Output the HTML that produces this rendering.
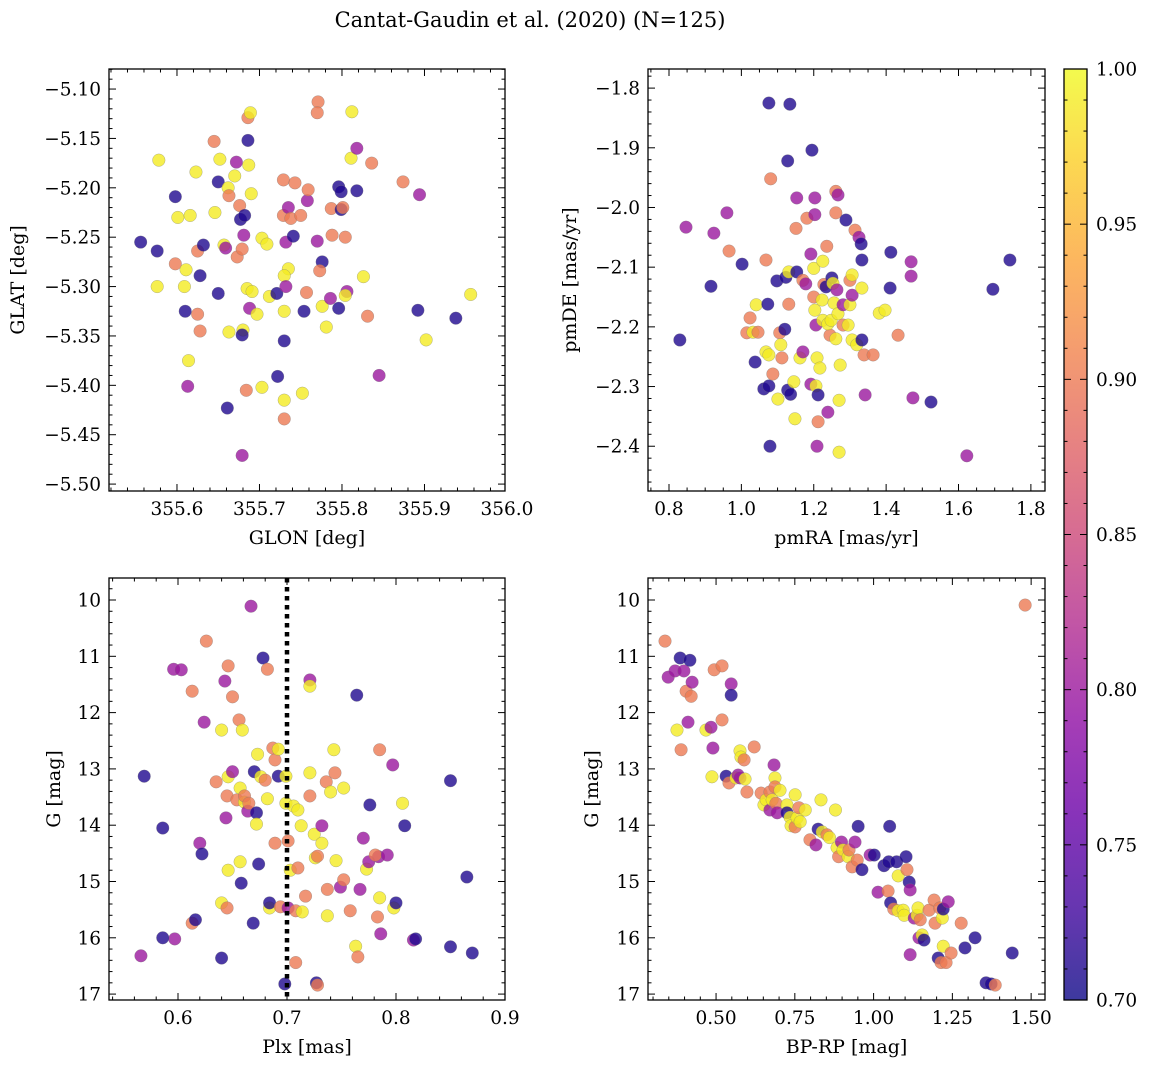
<!DOCTYPE html>
<html><head><meta charset="utf-8">
<style>
html,body{margin:0;padding:0;background:#fff;}
svg{display:block;font-family:"DejaVu Serif","Liberation Serif",serif;}
</style></head>
<body>
<svg id="chart" width="1149" height="1068" viewBox="0 0 1149 1068" xmlns="http://www.w3.org/2000/svg">
<defs>
<linearGradient id="plasma" x1="0" y1="1" x2="0" y2="0">
<stop offset="0" stop-color="#0d0887"/><stop offset="0.1" stop-color="#41049d"/><stop offset="0.2" stop-color="#6a00a8"/><stop offset="0.3" stop-color="#8f0da4"/><stop offset="0.4" stop-color="#b12a90"/><stop offset="0.5" stop-color="#cc4778"/><stop offset="0.6" stop-color="#e16462"/><stop offset="0.7" stop-color="#f2844b"/><stop offset="0.8" stop-color="#fca636"/><stop offset="0.9" stop-color="#fcce25"/><stop offset="1" stop-color="#f0f921"/>
</linearGradient>
</defs>
<text x="530" y="27" font-size="21" text-anchor="middle">Cantat-Gaudin et al. (2020) (N=125)</text>
</svg>
<script>
// Panel 1: GLON vs GLAT
const p1X=[355.556,355.576,355.578,355.598,355.601,355.616,355.623,355.576,355.598,355.611,355.609,355.610,355.625,355.628,355.614,355.613,355.625,355.628,355.632,355.645,355.646,355.650,355.652,355.650,355.657,355.659,355.662,355.663,355.670,355.672,355.676,355.677,355.682,355.681,355.687,355.686,355.689,355.686,355.690,355.673,355.679,355.663,355.680,355.679,355.688,355.685,355.691,355.697,355.703,355.709,355.712,355.721,355.684,355.703,355.722,355.661,355.679,355.729,355.729,355.732,355.735,355.730,355.732,355.730,355.730,355.730,355.730,355.735,355.743,355.738,355.741,355.750,355.758,355.759,355.757,355.754,355.752,355.771,355.770,355.770,355.776,355.773,355.776,355.781,355.788,355.787,355.786,355.796,355.796,355.799,355.799,355.801,355.804,355.806,355.804,355.812,355.811,355.818,355.818,355.826,355.831,355.836,355.845,355.874,355.894,355.892,355.902,355.938,355.956];
const p1Y=[-5.255,-5.264,-5.172,-5.209,-5.230,-5.228,-5.184,-5.300,-5.277,-5.283,-5.300,-5.325,-5.328,-5.345,-5.375,-5.401,-5.264,-5.289,-5.258,-5.153,-5.225,-5.194,-5.171,-5.307,-5.258,-5.261,-5.200,-5.208,-5.188,-5.174,-5.218,-5.232,-5.228,-5.248,-5.177,-5.129,-5.124,-5.152,-5.206,-5.270,-5.262,-5.346,-5.344,-5.349,-5.322,-5.302,-5.305,-5.328,-5.251,-5.257,-5.310,-5.307,-5.405,-5.402,-5.391,-5.423,-5.471,-5.192,-5.228,-5.255,-5.282,-5.289,-5.300,-5.325,-5.355,-5.415,-5.434,-5.220,-5.195,-5.231,-5.249,-5.228,-5.213,-5.202,-5.306,-5.325,-5.408,-5.113,-5.124,-5.254,-5.275,-5.284,-5.320,-5.341,-5.248,-5.221,-5.312,-5.322,-5.199,-5.204,-5.222,-5.220,-5.250,-5.305,-5.309,-5.123,-5.170,-5.160,-5.203,-5.290,-5.330,-5.175,-5.390,-5.194,-5.207,-5.324,-5.354,-5.332,-5.308];
const p1C=[0.71,0.71,0.99,0.71,0.99,0.99,0.99,0.99,0.90,0.99,0.99,0.71,0.90,0.90,0.99,0.80,0.90,0.71,0.71,0.90,0.99,0.71,0.99,0.71,0.99,0.80,0.99,0.90,0.99,0.80,0.90,0.71,0.71,0.80,0.99,0.90,0.99,0.71,0.99,0.90,0.90,0.99,0.99,0.71,0.80,0.99,0.99,0.99,0.99,0.99,0.99,0.71,0.90,0.99,0.71,0.71,0.80,0.90,0.90,0.80,0.99,0.99,0.80,0.99,0.71,0.99,0.90,0.80,0.90,0.90,0.71,0.90,0.80,0.90,0.90,0.71,0.99,0.90,0.90,0.80,0.71,0.90,0.99,0.99,0.90,0.90,0.80,0.71,0.71,0.71,0.71,0.90,0.90,0.80,0.99,0.99,0.99,0.80,0.71,0.99,0.90,0.90,0.80,0.90,0.80,0.71,0.99,0.71,0.99];
// Panel 2: pmRA vs pmDE
const p2X=[0.830,0.847,0.924,0.916,0.960,0.966,1.002,1.015,1.024,1.038,1.032,1.041,1.046,1.073,1.068,1.076,1.081,1.068,1.076,1.062,1.076,1.079,1.087,1.101,1.098,1.106,1.109,1.112,1.120,1.123,1.131,1.131,1.128,1.136,1.145,1.148,1.151,1.153,1.128,1.134,1.153,1.162,1.170,1.170,1.178,1.181,1.192,1.195,1.192,1.200,1.200,1.203,1.203,1.203,1.206,1.209,1.206,1.212,1.212,1.209,1.217,1.223,1.225,1.225,1.228,1.234,1.239,1.245,1.239,1.236,1.250,1.248,1.253,1.256,1.261,1.261,1.264,1.267,1.267,1.261,1.270,1.270,1.273,1.281,1.281,1.289,1.295,1.300,1.306,1.300,1.306,1.306,1.314,1.319,1.325,1.331,1.333,1.333,1.333,1.339,1.342,1.364,1.381,1.397,1.413,1.411,1.433,1.469,1.469,1.474,1.524,1.623,1.695,1.742];
const p2Y=[-2.222,-2.033,-2.043,-2.132,-2.009,-2.073,-2.095,-2.210,-2.185,-2.259,-2.209,-2.163,-2.209,-2.162,-2.088,-1.825,-1.952,-2.242,-2.247,-2.304,-2.299,-2.400,-2.279,-2.321,-2.123,-2.210,-2.230,-2.252,-2.204,-2.117,-2.108,-2.162,-2.306,-2.313,-2.292,-2.354,-2.035,-1.984,-1.922,-1.827,-2.108,-2.252,-2.242,-2.122,-2.128,-2.018,-2.078,-1.904,-2.296,-2.150,-2.102,-2.012,-1.984,-2.172,-2.197,-2.252,-2.299,-2.314,-2.359,-2.400,-2.269,-2.155,-2.090,-2.189,-2.129,-2.133,-2.343,-2.214,-2.195,-2.065,-2.118,-2.189,-2.127,-2.160,-1.973,-2.009,-2.138,-1.979,-2.178,-2.220,-2.323,-2.410,-2.264,-2.163,-2.197,-2.021,-2.197,-2.122,-2.113,-2.163,-2.147,-2.222,-2.038,-2.230,-2.050,-2.061,-2.135,-2.088,-2.222,-2.247,-2.314,-2.247,-2.177,-2.172,-2.075,-2.135,-2.214,-2.091,-2.115,-2.319,-2.326,-2.416,-2.137,-2.088];
const p2C=[0.71,0.80,0.80,0.71,0.80,0.90,0.71,0.90,0.90,0.71,0.99,0.99,0.90,0.71,0.90,0.71,0.90,0.99,0.99,0.71,0.71,0.71,0.90,0.99,0.71,0.90,0.99,0.90,0.71,0.71,0.99,0.90,0.71,0.71,0.99,0.99,0.90,0.80,0.71,0.71,0.71,0.99,0.80,0.90,0.80,0.90,0.80,0.71,0.80,0.90,0.99,0.80,0.80,0.99,0.80,0.99,0.99,0.71,0.90,0.80,0.99,0.99,0.99,0.99,0.90,0.71,0.80,0.90,0.99,0.90,0.71,0.99,0.99,0.99,0.90,0.90,0.80,0.80,0.99,0.99,0.99,0.99,0.99,0.80,0.90,0.71,0.99,0.90,0.99,0.99,0.80,0.99,0.90,0.99,0.80,0.71,0.99,0.71,0.71,0.90,0.80,0.90,0.99,0.99,0.71,0.71,0.90,0.80,0.80,0.80,0.71,0.80,0.71,0.71];
// Panel 3: Plx vs G
const p3X=[0.566,0.569,0.586,0.596,0.603,0.597,0.586,0.613,0.613,0.616,0.620,0.622,0.626,0.624,0.635,0.640,0.640,0.640,0.643,0.646,0.646,0.646,0.645,0.645,0.644,0.650,0.650,0.654,0.656,0.657,0.657,0.659,0.658,0.661,0.661,0.664,0.665,0.667,0.669,0.670,0.672,0.672,0.673,0.674,0.676,0.678,0.680,0.682,0.682,0.684,0.684,0.687,0.689,0.689,0.692,0.692,0.694,0.698,0.699,0.699,0.701,0.701,0.703,0.706,0.708,0.708,0.710,0.710,0.713,0.714,0.717,0.721,0.721,0.721,0.721,0.725,0.726,0.728,0.727,0.728,0.732,0.732,0.736,0.737,0.737,0.740,0.743,0.744,0.745,0.749,0.752,0.752,0.758,0.764,0.763,0.765,0.767,0.770,0.773,0.775,0.776,0.783,0.785,0.784,0.781,0.785,0.786,0.792,0.797,0.798,0.800,0.806,0.808,0.816,0.818,0.850,0.850,0.865,0.870];
const p3Y=[16.32,13.13,14.05,11.23,11.24,16.02,16.00,11.62,15.74,15.68,14.32,14.51,10.73,12.17,13.23,12.31,15.38,16.36,11.44,11.17,13.14,14.80,15.47,13.48,13.87,11.72,13.05,13.55,12.13,13.34,14.65,12.31,15.03,13.59,13.48,13.75,13.61,10.11,15.74,13.05,13.78,13.98,12.74,14.69,13.14,11.03,13.20,11.23,13.53,15.47,15.38,12.63,12.84,14.32,12.65,13.13,15.45,16.82,13.13,13.61,14.28,15.47,14.80,13.66,16.44,15.52,13.73,14.76,14.01,15.54,15.26,11.42,11.53,13.07,13.48,14.16,14.58,14.55,16.80,16.84,14.01,14.32,13.23,15.14,15.61,13.41,12.66,13.07,14.63,15.10,13.34,14.97,15.52,11.69,16.15,16.34,15.14,14.23,14.78,14.65,13.64,15.63,15.29,14.56,14.53,12.66,15.93,14.53,12.93,15.47,15.38,13.61,14.01,16.04,16.02,13.21,16.16,14.92,16.27];
const p3C=[0.80,0.71,0.71,0.80,0.80,0.80,0.71,0.90,0.90,0.71,0.80,0.71,0.90,0.80,0.90,0.99,0.99,0.71,0.80,0.90,0.99,0.99,0.90,0.90,0.80,0.90,0.80,0.90,0.90,0.99,0.99,0.99,0.71,0.99,0.90,0.80,0.90,0.80,0.71,0.71,0.71,0.99,0.99,0.71,0.99,0.71,0.90,0.90,0.99,0.99,0.71,0.90,0.90,0.90,0.99,0.71,0.90,0.71,0.99,0.99,0.90,0.80,0.99,0.99,0.90,0.90,0.99,0.90,0.99,0.99,0.90,0.80,0.99,0.99,0.90,0.99,0.99,0.90,0.71,0.90,0.80,0.99,0.90,0.90,0.99,0.99,0.99,0.90,0.99,0.80,0.99,0.90,0.90,0.71,0.99,0.90,0.80,0.80,0.99,0.80,0.71,0.90,0.99,0.80,0.90,0.90,0.80,0.80,0.80,0.99,0.71,0.99,0.71,0.80,0.71,0.71,0.71,0.71,0.71];
// Panel 4: BP-RP vs G
const p4X=[0.338,0.348,0.370,0.386,0.398,0.376,0.389,0.405,0.421,0.424,0.411,0.417,0.468,0.484,0.490,0.487,0.494,0.519,0.519,0.532,0.541,0.548,0.548,0.563,0.570,0.576,0.576,0.579,0.589,0.592,0.598,0.621,0.643,0.652,0.659,0.671,0.671,0.678,0.684,0.687,0.687,0.690,0.694,0.703,0.725,0.725,0.735,0.738,0.751,0.751,0.757,0.763,0.767,0.783,0.798,0.817,0.824,0.833,0.837,0.852,0.860,0.879,0.884,0.889,0.898,0.903,0.919,0.922,0.932,0.941,0.948,0.951,0.963,0.989,1.002,1.014,1.033,1.046,1.048,1.051,1.054,1.064,1.073,1.078,1.078,1.094,1.097,1.103,1.106,1.113,1.116,1.116,1.129,1.138,1.144,1.141,1.148,1.154,1.160,1.176,1.192,1.195,1.210,1.218,1.221,1.221,1.237,1.205,1.214,1.230,1.246,1.278,1.290,1.322,1.357,1.373,1.386,1.440,1.481];
const p4Y=[10.73,11.37,11.26,11.03,11.26,12.31,12.66,11.62,11.71,11.46,12.17,11.07,12.31,12.26,12.63,13.14,11.24,11.17,12.13,13.13,13.25,11.49,11.69,13.16,13.11,12.68,13.16,12.79,12.84,13.18,13.41,12.61,13.43,13.64,13.55,13.73,13.41,13.55,12.93,13.16,13.32,13.61,13.78,13.38,13.64,13.78,13.86,14.01,13.46,14.03,13.87,13.69,13.94,13.73,14.26,14.35,14.07,13.55,14.12,14.17,14.22,13.73,14.40,14.56,14.30,14.44,14.56,14.44,14.74,14.30,14.62,14.02,14.79,14.53,14.53,15.19,14.72,15.17,14.65,14.02,15.38,15.49,14.65,14.90,15.52,15.51,15.60,14.56,14.79,15.01,15.15,16.30,15.65,15.60,16.00,15.47,15.68,15.95,16.04,15.51,15.33,15.74,15.47,15.65,15.49,16.15,15.36,16.36,16.44,16.44,16.27,15.74,16.18,16.00,16.80,16.82,16.84,16.27,10.09];
const p4C=[0.90,0.80,0.80,0.71,0.80,0.99,0.90,0.90,0.90,0.80,0.80,0.71,0.99,0.80,0.80,0.99,0.90,0.90,0.90,0.71,0.90,0.80,0.71,0.99,0.80,0.99,0.80,0.99,0.90,0.99,0.90,0.90,0.90,0.99,0.99,0.80,0.90,0.99,0.80,0.99,0.90,0.90,0.80,0.99,0.99,0.71,0.99,0.99,0.99,0.90,0.99,0.90,0.99,0.99,0.90,0.80,0.71,0.99,0.99,0.90,0.99,0.99,0.99,0.90,0.80,0.99,0.99,0.90,0.90,0.80,0.90,0.71,0.71,0.80,0.71,0.80,0.71,0.90,0.71,0.71,0.71,0.90,0.71,0.99,0.99,0.99,0.99,0.71,0.90,0.71,0.80,0.80,0.80,0.99,0.80,0.99,0.90,0.99,0.71,0.90,0.90,0.90,0.90,0.99,0.71,0.99,0.80,0.71,0.90,0.90,0.90,0.90,0.71,0.71,0.71,0.71,0.90,0.71,0.90];
// Tick labels
const p1XTicks=[355.6,355.7,355.8,355.9,356.0];
const p1YTicks=[-5.10,-5.15,-5.20,-5.25,-5.30,-5.35,-5.40,-5.45,-5.50];
const p2XTicks=[0.8,1.0,1.2,1.4,1.6,1.8];
const p2YTicks=[-1.8,-1.9,-2.0,-2.1,-2.2,-2.3,-2.4];
const p3XTicks=[0.6,0.7,0.8,0.9];
const gTicks=[10,11,12,13,14,15,16,17];
const p4XTicks=[0.50,0.75,1.00,1.25,1.50];
const cbTicks=[0.70,0.75,0.80,0.85,0.90,0.95,1.00];
const plxLine=0.7;

const NS="http://www.w3.org/2000/svg";
const svg=document.getElementById('chart');
function mk(tag,attrs,parent){const e=document.createElementNS(NS,tag);for(const k in attrs)e.setAttribute(k,attrs[k]);(parent||svg).appendChild(e);return e;}
const stops=[[13,8,135],[65,4,157],[106,0,168],[143,13,164],[177,42,144],[204,71,120],[225,100,98],[242,132,75],[252,166,54],[252,206,37],[240,249,33]];
function plasma(v){let t=(v-0.7)/0.3;t=Math.max(0,Math.min(1,t));const f=t*10,i=Math.min(9,Math.floor(f)),r=f-i;const a=stops[i],b=stops[i+1];return `rgb(${a.map((c,k)=>Math.round(c+(b[k]-c)*r)).join(',')})`;}

function panel(o){
  const g=mk('g',{});
  
  
  const sx=v=>o.L+(v-o.x0)/(o.x1-o.x0)*(o.R-o.L);
  const sy=v=>o.B-(v-o.y0)/(o.y1-o.y0)*(o.B-o.T);
  const pg=mk('g',{},g);
  
  
  for(let i=0;i<o.xs.length;i++){
    const c=mk('circle',{cx:sx(o.xs[i]),cy:sy(o.ys[i]),r:6.3,fill:plasma(o.cs[i]),'fill-opacity':0.8,stroke:'#777','stroke-width':0.4,'stroke-opacity':0.7},pg);
    
    
  }
  if(o.vline!==undefined){
    const l=mk('line',{x1:sx(o.vline),x2:sx(o.vline),y1:o.T,y2:o.B,stroke:'#000','stroke-width':4.5,'stroke-dasharray':'4.5 4.5'},g);
    
    
  }
  const fr=mk('rect',{x:o.L,y:o.T,width:o.R-o.L,height:o.B-o.T,fill:'none',stroke:'#000','stroke-width':1.3},g);
  
  
  const xt=o.xt, dx=(xt[1]-xt[0])/o.xm;
  for(let v=xt[0]-Math.ceil((xt[0]-o.x0)/dx)*dx;v<=o.x1+1e-9;v+=dx){
    const px=sx(v); if(px<o.L-0.5||px>o.R+0.5)continue;
    const major=xt.some(t=>Math.abs(t-v)<dx/3);const len=major?7:3.5;
    mk('line',{x1:px,x2:px,y1:o.B,y2:o.B-len,stroke:'#000','stroke-width':1},g);
    mk('line',{x1:px,x2:px,y1:o.T,y2:o.T+len,stroke:'#000','stroke-width':1},g);
  }
  xt.forEach(v=>{const t=mk('text',{x:sx(v),y:o.B+24,'font-size':18.5,'text-anchor':'middle'},g);t.textContent=v.toFixed(o.xd);
    
    });
  const yt=o.yt, dy=(yt[1]-yt[0])/o.ym;
  const ylo=Math.min(o.y0,o.y1),yhi=Math.max(o.y0,o.y1),ady=Math.abs(dy);
  for(let v=yt[0]-Math.ceil(Math.abs(yt[0]-ylo)/ady+20)*ady;v<=yhi+1e-9;v+=ady){
    if(v<ylo-1e-9)continue;const py=sy(v);
    const major=yt.some(t=>Math.abs(t-v)<ady/3);const len=major?7:3.5;
    mk('line',{x1:o.L,x2:o.L+len,y1:py,y2:py,stroke:'#000','stroke-width':1},g);
    mk('line',{x1:o.R,x2:o.R-len,y1:py,y2:py,stroke:'#000','stroke-width':1},g);
  }
  yt.forEach(v=>{const t=mk('text',{x:o.L-8,y:sy(v)+6.5,'font-size':18.5,'text-anchor':'end'},g);t.textContent=(v<0?'\u2212':'')+Math.abs(v).toFixed(o.yd);
    
    });
  const xl=mk('text',{x:(o.L+o.R)/2,y:o.B+53,'font-size':19,'text-anchor':'middle'},g);xl.textContent=o.xlab;
  
  
  const yl=mk('text',{x:o.ylx,y:(o.T+o.B)/2,'font-size':19,'text-anchor':'middle',transform:`rotate(-90 ${o.ylx} ${(o.T+o.B)/2})`},g);yl.textContent=o.ylab;
  
  
}
panel({name:'panel-glon-glat',L:109,R:505,T:69,B:491,x0:355.5176,x1:355.9976,y0:-5.507,y1:-5.0797,xs:p1X,ys:p1Y,cs:p1C,xt:p1XTicks,xm:5,xd:1,yt:p1YTicks,ym:5,yd:2,xlab:'GLON [deg]',ylab:'GLAT [deg]',ylx:24});
panel({name:'panel-pmra-pmde',L:648,R:1045,T:69,B:491,x0:0.742,x1:1.839,y0:-2.475,y1:-1.768,xs:p2X,ys:p2Y,cs:p2C,xt:p2XTicks,xm:4,xd:1,yt:p2YTicks,ym:5,yd:1,xlab:'pmRA [mas/yr]',ylab:'pmDE [mas/yr]',ylx:576});
panel({name:'panel-plx-g',L:109,R:505,T:578,B:1000,x0:0.5367,x1:0.9,y0:17.105,y1:9.609,xs:p3X,ys:p3Y,cs:p3C,xt:p3XTicks,xm:5,xd:1,yt:gTicks,ym:5,yd:0,xlab:'Plx [mas]',ylab:'G [mag]',ylx:60,vline:plxLine});
panel({name:'panel-bprp-g',L:648,R:1045,T:578,B:1000,x0:0.284,x1:1.544,y0:17.105,y1:9.609,xs:p4X,ys:p4Y,cs:p4C,xt:p4XTicks,xm:5,xd:2,yt:gTicks,ym:5,yd:0,xlab:'BP-RP [mag]',ylab:'G [mag]',ylx:598});

const cb=mk('g',{});


const cT=69,cB=1000,cL=1064,cR=1087;
mk('rect',{x:cL,y:cT,width:cR-cL,height:cB-cT,fill:'url(#plasma)','fill-opacity':0.8},cb);
mk('rect',{x:cL,y:cT,width:cR-cL,height:cB-cT,fill:'none',stroke:'#000','stroke-width':1.3},cb);
const cy=v=>cB-(v-0.7)/0.3*(cB-cT);
for(let k=0;k<=30;k++){const v=0.7+k*0.01;const major=k%5===0;const len=major?7:3.5;
  mk('line',{x1:cR,x2:cR-len,y1:cy(v),y2:cy(v),stroke:'#000','stroke-width':1},cb);
  mk('line',{x1:cL,x2:cL+len,y1:cy(v),y2:cy(v),stroke:'#000','stroke-width':1},cb);}
cbTicks.forEach(v=>{const t=mk('text',{x:cR+9,y:cy(v)+6.5,'font-size':18.5},cb);t.textContent=v.toFixed(2);
  
  });
</script>
</body></html>
